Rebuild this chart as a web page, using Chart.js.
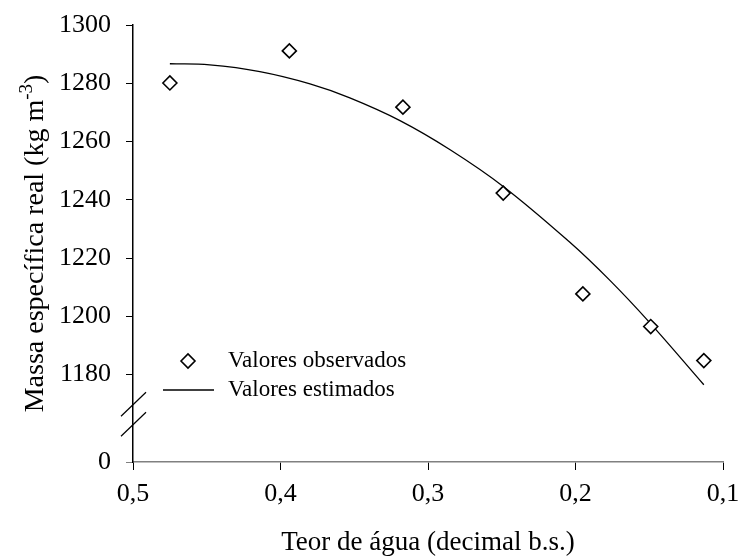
<!DOCTYPE html>
<html>
<head>
<meta charset="utf-8">
<script src="https://cdn.jsdelivr.net/npm/chart.js@4.4.0/dist/chart.umd.min.js"></script>
<style>
  html, body { margin: 0; padding: 0; background: #fff; }
</style>
</head>
<body>
<canvas id="massChart" width="738" height="559"></canvas>
<script>
// observed values
const obsX = [0.475, 0.394, 0.317, 0.249, 0.195, 0.149, 0.113];
const obsY = [1280.1, 1291.1, 1271.8, 1242.3, 1207.7, 1196.5, 1184.8];

// estimated curve
const fitX = [0.475, 0.448, 0.414, 0.380, 0.353, 0.319, 0.285, 0.249, 0.204, 0.177, 0.150, 0.113];
const fitY = [1286.7, 1286.3, 1284.0, 1279.8, 1275.0, 1267.2, 1257.2, 1244.6, 1225.5, 1212.5, 1198.0, 1176.5];

const xTicks = [0.5, 0.4, 0.3, 0.2, 0.1];
const xTickLabels = ["0,5", "0,4", "0,3", "0,2", "0,1"];
const yTicks = [1180, 1200, 1220, 1240, 1260, 1280, 1300];
const yBreakValue = 1150;   // the "0" sits here, below the axis break
const yBreakLabel = "0";
const seriesNames = ["Valores observados", "Valores estimados"];

const FONT = "'Liberation Serif', 'Times New Roman', serif";

function toPoints(xs, ys) {
    return xs.map((x, i) => ({ x: x, y: ys[i] }));
}

// y title with superscript, axis break marks and legend
const extras = {
    id: "extras",
    afterDraw(chart) {
        const ctx = chart.ctx;
        const area = chart.chartArea;
        const y = chart.scales.y;

        // axis break
        const p1 = y.getPixelForValue(yTicks[0]);
        const p0 = y.getPixelForValue(yBreakValue);
        const mid = (p1 + p0) / 2 - 4;
        ctx.save();
        ctx.strokeStyle = "#000";
        ctx.lineWidth = 1.2;
        [-10, 10].forEach(off => {
            ctx.beginPath();
            ctx.moveTo(area.left - 12, mid + off + 12);
            ctx.lineTo(area.left + 13, mid + off - 12);
            ctx.stroke();
        });
        ctx.restore();

        // y title
        ctx.save();
        ctx.fillStyle = "#000";
        ctx.textBaseline = "alphabetic";
        const main = "Massa específica real (kg m";
        const sup = "-3";
        const tail = ")";
        ctx.font = "28px " + FONT;
        const wMain = ctx.measureText(main).width;
        const wTail = ctx.measureText(tail).width;
        ctx.font = "19px " + FONT;
        const wSup = ctx.measureText(sup).width;
        const total = wMain + wSup + wTail;
        ctx.translate(43, (area.top + area.bottom) / 2);
        ctx.rotate(-Math.PI / 2);
        let tx = -total / 2;
        ctx.font = "28px " + FONT;
        ctx.fillText(main, tx, 0);
        tx += wMain;
        ctx.font = "19px " + FONT;
        ctx.fillText(sup, tx, -11);
        tx += wSup;
        ctx.font = "28px " + FONT;
        ctx.fillText(tail, tx, 0);
        ctx.restore();

        // legend
        ctx.save();
        ctx.font = "23px " + FONT;
        ctx.textBaseline = "middle";
        ctx.strokeStyle = "#000";
        ctx.lineWidth = 1.6;
        const lx = 188, ly = 361;
        ctx.beginPath();
        ctx.moveTo(lx - 7, ly);
        ctx.lineTo(lx, ly - 7);
        ctx.lineTo(lx + 7, ly);
        ctx.lineTo(lx, ly + 7);
        ctx.closePath();
        ctx.fillStyle = "#fff";
        ctx.fill();
        ctx.stroke();
        ctx.fillStyle = "#000";
        ctx.fillText(seriesNames[0], 228, ly);
        ctx.lineWidth = 1.3;
        ctx.beginPath();
        ctx.moveTo(163, 390);
        ctx.lineTo(214, 390);
        ctx.stroke();
        ctx.fillText(seriesNames[1], 228, 390);
        ctx.restore();
    }
};

new Chart(document.getElementById("massChart"), {
    type: "scatter",
    data: {
        datasets: [{
            label: seriesNames[1],
            data: toPoints(fitX, fitY),
            showLine: true,
            borderColor: "#000",
            borderWidth: 1.3,
            pointRadius: 0,
            tension: 0.4,
            order: 2
        }, {
            label: seriesNames[0],
            data: toPoints(obsX, obsY),
            pointStyle: "rectRot",
            pointRadius: 7,
            pointBorderWidth: 1.6,
            borderColor: "#000",
            backgroundColor: "#fff",
            order: 1
        }]
    },
    options: {
        responsive: false,
        animation: false,
        layout: { padding: { top: 25, right: 15, left: 0, bottom: 0 } },
        plugins: {
            legend: { display: false },
            tooltip: { enabled: false }
        },
        scales: {
            x: {
                type: "linear",
                reverse: true,
                min: 0.1,
                max: 0.5,
                afterBuildTicks: s => { s.ticks = xTicks.map(v => ({ value: v })); },
                afterFit: s => {
                    s.height = 97;
                    s.paddingLeft = 0;
                    s.paddingRight = 0;
                },
                border: { color: "#808080", width: 1.5 },
                grid: { drawOnChartArea: false, tickLength: 8, color: "#000" },
                ticks: {
                    font: { family: FONT, size: 26 },
                    color: "#000",
                    padding: 9,
                    maxRotation: 0,
                    callback: v => {
                        const i = xTicks.findIndex(t => Math.abs(t - v) < 1e-9);
                        return i >= 0 ? xTickLabels[i] : "";
                    }
                },
                title: {
                    display: true,
                    text: "Teor de água (decimal b.s.)",
                    font: { family: FONT, size: 27 },
                    color: "#000",
                    padding: { top: 4, bottom: 0 }
                }
            },
            y: {
                type: "linear",
                min: yBreakValue,
                max: 1300,
                afterBuildTicks: s => { s.ticks = [yBreakValue].concat(yTicks).map(v => ({ value: v })); },
                afterFit: s => {
                    s.width = 133;
                    s.paddingTop = 0;
                    s.paddingBottom = 0;
                },
                border: { color: "#000", width: 1.5 },
                grid: {
                    drawOnChartArea: false,
                    tickLength: 7,
                    color: c => (c.tick && c.tick.value === yBreakValue ? "#808080" : "#000")
                },
                ticks: {
                    font: { family: FONT, size: 26 },
                    color: "#000",
                    padding: 15,
                    callback: v => (v === yBreakValue ? yBreakLabel : String(v))
                }
            }
        }
    },
    plugins: [extras]
});
</script>
</body>
</html>
